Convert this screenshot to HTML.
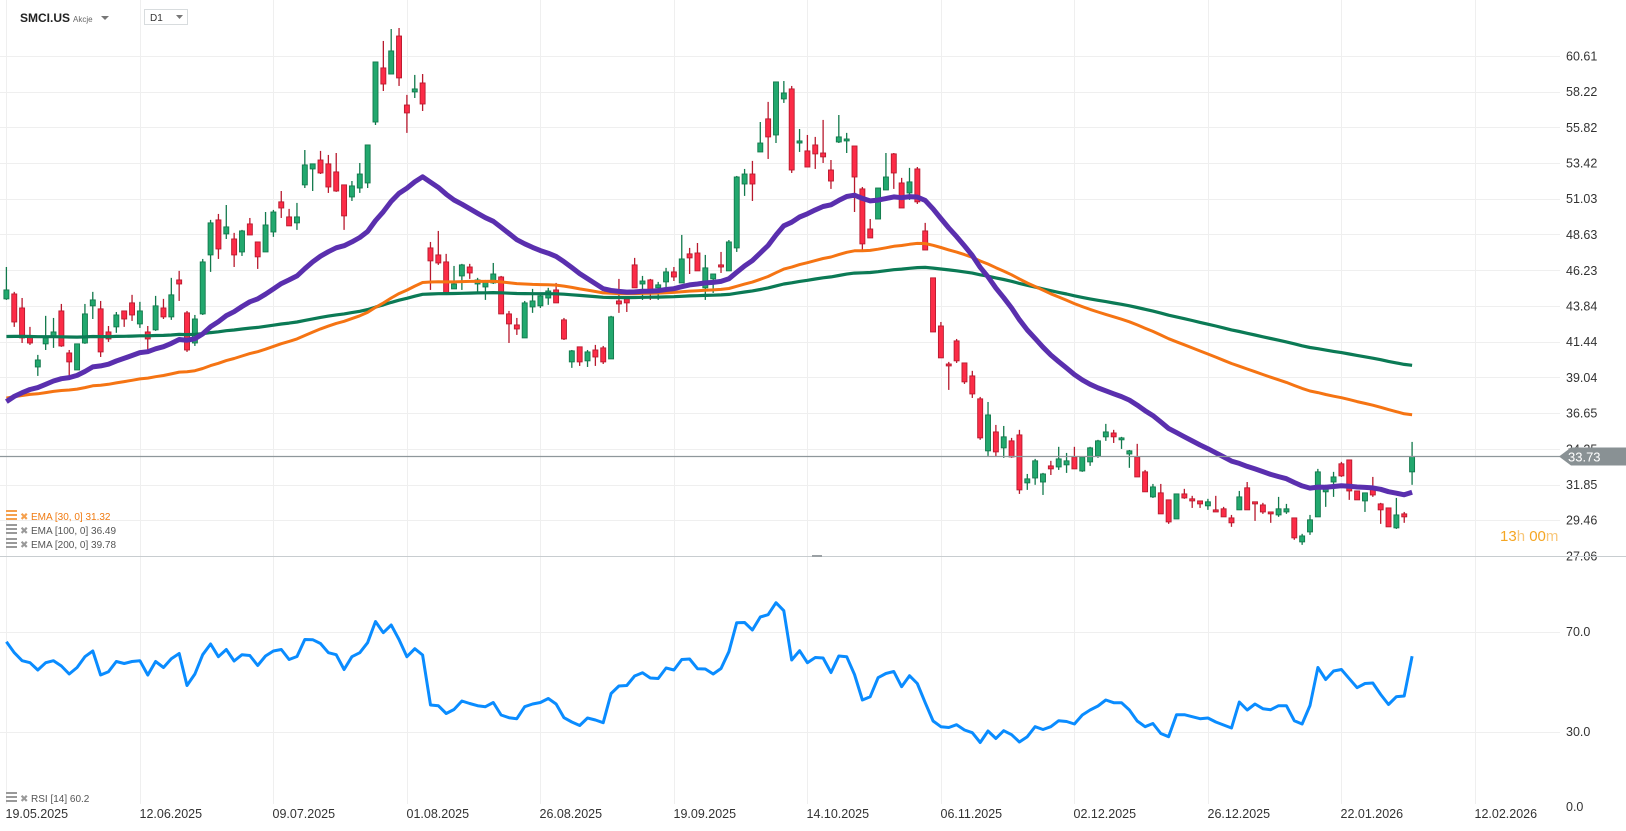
<!DOCTYPE html>
<html><head><meta charset="utf-8"><title>SMCI.US chart</title>
<style>
html,body{margin:0;padding:0;background:#fff;width:1626px;height:831px;overflow:hidden;font-family:"Liberation Sans",Arial,sans-serif;}
svg text{font-family:"Liberation Sans",Arial,sans-serif;}
</style></head>
<body>
<svg id="chart" width="1626" height="831" viewBox="0 0 1626 831" xmlns="http://www.w3.org/2000/svg">
  <defs>
    <clipPath id="priceClip"><rect x="0" y="0" width="1562" height="556"/></clipPath>
    <clipPath id="rsiClip"><rect x="0" y="558" width="1562" height="246"/></clipPath>
  </defs>
  <rect x="0" y="0" width="1626" height="831" fill="#ffffff"/>
  <g id="grid"></g>
  <g id="priceLabels"></g>
  <g id="rsiLabels"></g>
  <g id="dateLabels"></g>
  <line x1="0" y1="556.5" x2="1626" y2="556.5" stroke="#c8cdd0" stroke-width="1"/>
  <rect x="812" y="555" width="10" height="2" fill="#9aa0a4"/>
  <g clip-path="url(#priceClip)">
    <g id="candles"></g>
    <path id="ema200" fill="none" stroke="#0b7a55" stroke-width="3.2" stroke-linejoin="round"/>
    <path id="ema100" fill="none" stroke="#f57413" stroke-width="3" stroke-linejoin="round"/>
    <path id="ema30" fill="none" stroke="#5a2fae" stroke-width="5" stroke-linejoin="round"/>
  </g>
  <line id="lastLine" x1="0" x2="1560" stroke="#8e979b" stroke-width="1.2"/>
  <g id="lastTag"></g>
  <g clip-path="url(#rsiClip)">
    <path id="rsiLine" fill="none" stroke="#0a8cff" stroke-width="3" stroke-linejoin="round"/>
  </g>

  <!-- header -->
  <text x="20" y="22" font-size="12" font-weight="bold" fill="#222">SMCI.US</text>
  <text x="73" y="22" font-size="8" fill="#666">Akcje</text>
  <path d="M101 16 L109 16 L105 20 Z" fill="#777"/>
  <rect x="144.5" y="9.5" width="43" height="15" fill="#fff" stroke="#d8dcde"/>
  <text x="150" y="21" font-size="10" fill="#333">D1</text>
  <path d="M176 15 L183 15 L179.5 19 Z" fill="#777"/>

  <!-- legend -->
  <g>
    <rect x="6" y="510" width="11" height="2" fill="#f5a04d"/><rect x="6" y="514" width="11" height="2" fill="#f5a04d"/><rect x="6" y="518" width="11" height="2" fill="#f5a04d"/>
    <text x="20" y="520" font-size="10" fill="#f5a04d">✖</text>
    <text x="31" y="520" font-size="10" fill="#f07b12">EMA [30, 0] 31.32</text>
  </g>
  <g>
    <rect x="6" y="524" width="11" height="2" fill="#999"/><rect x="6" y="528" width="11" height="2" fill="#999"/><rect x="6" y="532" width="11" height="2" fill="#999"/>
    <text x="20" y="534" font-size="10" fill="#999">✖</text>
    <text x="31" y="534" font-size="10" fill="#555">EMA [100, 0] 36.49</text>
  </g>
  <g>
    <rect x="6" y="538" width="11" height="2" fill="#999"/><rect x="6" y="542" width="11" height="2" fill="#999"/><rect x="6" y="546" width="11" height="2" fill="#999"/>
    <text x="20" y="548" font-size="10" fill="#999">✖</text>
    <text x="31" y="548" font-size="10" fill="#555">EMA [200, 0] 39.78</text>
  </g>
  <g>
    <rect x="6" y="792" width="11" height="2" fill="#999"/><rect x="6" y="796" width="11" height="2" fill="#999"/><rect x="6" y="800" width="11" height="2" fill="#999"/>
    <text x="20" y="802" font-size="10" fill="#999">✖</text>
    <text x="31" y="802" font-size="10" fill="#555">RSI [14] 60.2</text>
  </g>
  <text x="1500" y="541" font-size="15" fill="#f5a623">13<tspan fill="#f8c77a">h</tspan> 00<tspan fill="#f8c77a">m</tspan></text>
</svg>
<script>
const priceTicks = [60.61,58.22,55.82,53.42,51.03,48.63,46.23,43.84,41.44,39.04,36.65,34.25,31.85,29.46,27.06];
const rsiTicks = [70.0,30.0,0.0];
const dateLabels = ["19.05.2025","12.06.2025","09.07.2025","01.08.2025","26.08.2025","19.09.2025","14.10.2025","06.11.2025","02.12.2025","26.12.2025","22.01.2026","12.02.2026"];
const dateIndex = [0,17,34,51,68,85,102,119,136,153,170,187];
const lastPrice = 33.73;
const emaSeed30 = 36.9, emaSeed100 = 37.5, emaSeed200 = 41.75;
const opens = [44.31,44.64,43.70,41.76,39.74,41.29,41.76,43.50,40.68,39.54,41.35,43.84,43.64,42.09,42.43,43.50,44.04,42.63,42.09,42.23,43.70,43.10,45.58,43.37,41.35,43.30,47.26,49.61,48.67,48.33,47.46,49.34,48.13,47.46,48.80,50.82,49.81,49.41,51.96,53.03,53.63,53.37,52.83,51.96,51.15,51.75,52.09,56.18,59.81,59.40,61.95,57.32,58.20,58.80,47.73,47.26,46.79,44.98,45.85,46.45,45.31,45.11,45.38,45.78,43.30,42.56,41.69,43.77,43.84,44.37,44.91,42.90,40.08,41.09,40.15,40.88,41.02,40.28,44.17,44.31,46.59,45.31,45.58,45.05,45.45,46.12,45.38,47.33,47.39,45.05,45.65,46.59,46.19,47.73,52.02,52.69,54.17,56.39,55.31,57.73,58.40,54.77,54.24,54.64,54.10,52.96,54.84,54.91,54.57,51.69,49.00,49.67,51.62,54.04,52.09,51.42,53.03,48.87,45.72,42.49,39.94,41.49,40.01,39.14,37.60,34.11,35.38,34.31,34.78,35.18,31.96,32.29,32.02,33.10,33.03,33.17,33.70,32.76,33.37,33.77,35.05,35.31,34.85,33.90,33.70,32.70,31.02,31.29,30.82,29.54,31.22,30.89,30.75,30.42,30.15,30.22,29.61,30.15,31.63,30.69,30.48,30.01,29.81,30.01,29.61,28.00,28.67,29.68,31.36,32.02,33.24,33.50,31.42,30.75,31.69,30.55,30.28,28.94,29.88,32.70];
const highs = [46.45,44.78,44.37,42.43,40.55,43.17,43.03,43.97,40.88,41.29,43.97,44.78,44.17,42.49,43.43,43.50,44.58,44.11,42.49,44.51,44.31,45.72,46.19,43.50,43.23,46.99,49.61,50.01,50.61,48.74,48.94,49.74,48.13,50.14,50.28,51.55,50.35,50.75,54.30,53.37,54.24,53.97,54.10,51.96,52.22,53.43,54.64,60.21,61.62,62.42,62.49,58.00,59.34,59.40,48.13,48.87,47.33,46.52,46.66,46.66,45.72,45.58,46.72,45.85,43.50,43.03,44.17,44.98,44.64,45.05,45.38,43.03,40.88,41.09,40.88,41.22,41.15,43.17,45.65,44.44,47.06,45.85,45.65,45.45,46.39,46.45,48.60,47.73,48.06,47.26,45.98,47.46,48.26,52.56,53.03,53.57,56.18,57.53,58.87,58.93,58.60,55.71,55.31,55.18,56.32,53.63,56.65,55.45,54.57,51.82,49.67,51.75,54.10,54.10,52.43,53.10,53.16,49.41,45.72,42.76,40.08,41.62,40.01,39.48,37.73,37.39,35.85,35.78,34.98,35.52,32.56,33.57,32.63,33.44,34.38,33.97,34.38,33.70,34.38,34.85,35.92,35.52,35.05,34.17,34.58,32.83,31.89,31.89,30.82,31.22,31.56,31.09,30.75,30.89,31.09,30.35,29.81,31.42,32.02,30.69,30.62,30.01,31.02,30.55,29.61,28.54,29.81,32.90,31.83,32.70,33.37,33.50,31.42,31.29,32.36,30.62,30.28,30.95,30.01,34.71];
const lows = [44.24,42.43,41.35,41.22,39.14,40.88,41.02,41.09,39.07,39.54,41.29,42.96,40.41,41.42,42.03,42.43,42.83,42.36,40.82,42.16,42.96,42.90,44.17,40.75,41.15,43.23,46.12,46.99,48.33,46.45,47.19,48.60,46.32,47.46,48.47,49.74,49.21,48.94,51.75,51.55,52.69,51.42,51.49,48.94,50.88,51.42,51.75,55.98,58.26,59.40,58.60,55.45,57.79,56.92,44.91,46.59,44.71,44.98,44.91,45.65,44.78,44.24,45.31,43.30,41.35,41.89,41.69,43.37,43.70,43.91,44.04,41.55,39.68,39.81,39.74,39.81,39.94,40.28,43.37,43.43,45.05,44.24,44.24,44.24,44.91,45.51,45.38,45.98,46.19,44.24,44.71,46.05,46.19,47.46,51.22,50.88,54.17,53.70,54.77,57.46,52.76,54.17,53.16,53.03,53.43,51.69,54.77,54.10,50.14,47.59,48.40,49.67,51.62,51.69,50.41,50.95,50.68,47.59,42.09,40.35,38.20,40.01,38.60,37.66,34.85,33.77,33.70,33.64,33.64,31.22,31.49,31.83,31.15,32.49,32.83,32.63,32.90,32.70,33.10,33.64,34.78,34.64,34.24,32.97,32.36,31.36,30.95,29.88,29.21,29.54,30.89,30.28,30.28,30.15,30.01,29.68,29.01,30.15,30.15,29.41,29.88,29.28,29.68,29.88,28.14,27.80,28.47,29.68,30.35,31.02,32.36,30.82,30.82,30.01,31.02,29.21,29.01,28.87,29.28,31.83];
const closes = [44.91,42.76,41.69,41.35,40.21,41.69,42.09,41.15,40.08,41.29,43.30,44.24,40.75,41.62,43.23,42.96,43.23,43.50,41.62,43.84,43.10,44.58,45.31,40.88,42.96,46.79,49.41,47.66,49.14,47.26,48.87,48.60,47.13,49.27,50.14,50.41,49.21,49.81,53.30,53.37,52.76,51.82,51.55,49.88,51.89,52.69,54.64,60.21,58.73,60.95,59.14,56.79,58.40,57.39,46.86,46.72,44.71,45.31,46.59,46.05,45.58,45.45,45.98,43.30,42.63,42.29,44.04,44.17,44.51,44.84,44.04,41.62,40.82,40.08,40.75,40.41,40.08,43.10,43.97,44.04,45.05,45.51,44.91,45.25,46.12,45.78,46.99,47.06,46.19,46.39,45.98,46.45,48.13,52.49,52.69,52.02,54.77,55.18,58.87,58.13,52.96,54.91,53.16,54.04,53.84,52.22,55.18,55.04,52.49,48.00,48.40,51.75,52.49,52.76,50.41,52.16,50.82,47.59,42.09,40.35,39.81,40.15,38.74,37.93,34.98,36.52,34.04,35.05,33.70,31.49,32.23,33.44,32.56,32.90,33.57,33.44,32.90,33.70,34.31,34.78,35.38,35.05,34.98,34.11,32.36,31.36,31.69,29.88,29.34,31.22,30.95,30.75,30.55,30.69,30.01,29.68,29.28,31.02,30.15,30.55,30.01,29.88,30.22,30.22,28.27,28.40,29.48,32.70,31.56,32.36,32.43,31.42,30.82,31.29,31.15,30.15,29.01,29.81,29.68,33.73];
const rsiValues = [66.0,61.6,58.4,57.6,54.7,57.6,58.4,56.3,53.1,55.7,60.0,62.3,52.7,54.0,58.1,57.3,58.1,58.4,52.7,58.1,55.7,59.2,61.3,48.5,53.1,60.8,65.1,60.0,62.9,58.3,60.8,60.5,56.5,60.3,62.3,62.9,58.9,60.1,66.9,66.8,65.3,61.6,60.8,54.9,60.0,61.6,65.6,74.1,69.6,72.7,66.9,60.0,63.2,60.7,40.7,40.4,37.3,38.9,42.3,41.3,40.4,40.0,41.7,36.7,35.6,35.2,40.0,41.1,41.7,43.3,41.1,35.6,33.9,32.5,35.5,34.7,33.6,45.3,48.3,48.5,52.3,53.6,51.5,51.3,55.5,54.7,58.9,59.1,55.2,55.1,53.1,55.3,62.0,73.6,73.7,70.7,75.9,76.8,81.6,78.4,58.7,62.4,57.6,59.7,59.5,53.7,60.3,60.0,52.9,42.7,44.0,51.6,53.3,54.1,48.0,52.4,49.3,41.6,34.3,32.0,31.7,32.8,30.7,29.6,25.7,30.3,27.3,30.4,28.8,25.9,28.0,32.0,30.9,32.0,34.4,34.1,33.1,36.7,38.7,40.3,42.7,41.6,41.6,38.7,34.3,32.0,33.3,29.3,28.0,36.8,36.8,36.0,35.2,35.5,33.9,32.7,31.5,41.9,38.7,41.1,39.2,38.8,40.4,40.4,34.4,33.1,40.5,55.7,50.9,54.3,54.9,51.2,47.6,49.3,49.5,44.9,40.9,44.0,44.3,60.2];

const NS = "http://www.w3.org/2000/svg";
const X0 = 6.4, DX = 7.853;
function xs(i){ return X0 + DX*i; }
function yp(p){ return 413 + (36.65 - p)*14.9; }
function yr(v){ return 806.7 - v*2.5; }
function mk(tag, parent, attrs){ const e=document.createElementNS(NS,tag); for(const k in attrs) e.setAttribute(k, attrs[k]); parent.appendChild(e); return e; }

const grid = document.getElementById('grid');
const pl = document.getElementById('priceLabels');
priceTicks.forEach(function(p){
  const y = Math.round(yp(p))+0.5;
  const g = mk('line', grid, {x1:0, x2:1560, y1:y, y2:y, stroke:'#efefef', 'stroke-width':1});
  
  
  const t = mk('text', pl, {x:1566, y:yp(p)+4.5, 'font-size':12.5, fill:'#333'});
  
  
  t.textContent = p.toFixed(2);
});
const rl = document.getElementById('rsiLabels');
rsiTicks.forEach(function(v){
  const y = Math.round(yr(v))+0.5;
  if (v > 0) {
    const g = mk('line', grid, {x1:0, x2:1560, y1:y, y2:y, stroke:'#efefef', 'stroke-width':1});
    
    
  }
  const t = mk('text', rl, {x:1566, y:yr(v)+4.5, 'font-size':12.5, fill:'#333'});
  
  
  t.textContent = v.toFixed(1);
});
const dl = document.getElementById('dateLabels');
dateLabels.forEach(function(s, k){
  const x = Math.round(xs(dateIndex[k]))+0.5;
  const g = mk('line', grid, {x1:x, x2:x, y1:0, y2:804, stroke:'#efefef', 'stroke-width':1});
  
  
  const t = mk('text', dl, {x:x-1, y:818, 'font-size':12.5, fill:'#333'});
  
  
  t.textContent = s;
});

const cg = document.getElementById('candles');
for (let i=0;i<closes.length;i++){
  const up = closes[i] >= opens[i];
  const fill = up ? '#22a86e' : '#fc2c47';
  const edge = up ? '#12794c' : '#b81a2e';
  const x = xs(i);
  const w = mk('line', cg, {x1:x, x2:x, y1:yp(highs[i]), y2:yp(lows[i]), stroke:edge, 'stroke-width':1.3});
  
  
  const top = yp(Math.max(opens[i], closes[i]));
  const h = Math.max(1.5, yp(Math.min(opens[i], closes[i])) - top);
  const b = mk('rect', cg, {x:x-2.5, y:top, width:5, height:h, fill:fill, stroke:edge, 'stroke-width':0.9});
  
  
}

function emaPath(period, seed){
  const k = 2/(period+1);
  let e = seed, d = '';
  for (let i=0;i<closes.length;i++){
    e = e + k*(closes[i]-e);
    d += (i?'L':'M') + xs(i).toFixed(1) + ' ' + yp(e).toFixed(1);
  }
  return d;
}
document.getElementById('ema30').setAttribute('d', emaPath(30, emaSeed30));
document.getElementById('ema100').setAttribute('d', emaPath(100, emaSeed100));
document.getElementById('ema200').setAttribute('d', emaPath(200, emaSeed200));

let rd = '';
rsiValues.forEach(function(v,i){ rd += (i?'L':'M') + xs(i).toFixed(1) + ' ' + yr(v).toFixed(1); });
document.getElementById('rsiLine').setAttribute('d', rd);

const ly = yp(lastPrice);
const ll = document.getElementById('lastLine');
ll.setAttribute('y1', ly); ll.setAttribute('y2', ly);
const tag = document.getElementById('lastTag');
const poly = mk('path', tag, {d:'M1559 '+ly+' L1571 '+(ly-9)+' L1626 '+(ly-9)+' L1626 '+(ly+9)+' L1571 '+(ly+9)+' Z', fill:'#899194'});


const lt = mk('text', tag, {x:1568, y:ly+5, 'font-size':13, fill:'#fff'});


lt.textContent = lastPrice.toFixed(2);
</script>
</body></html>
